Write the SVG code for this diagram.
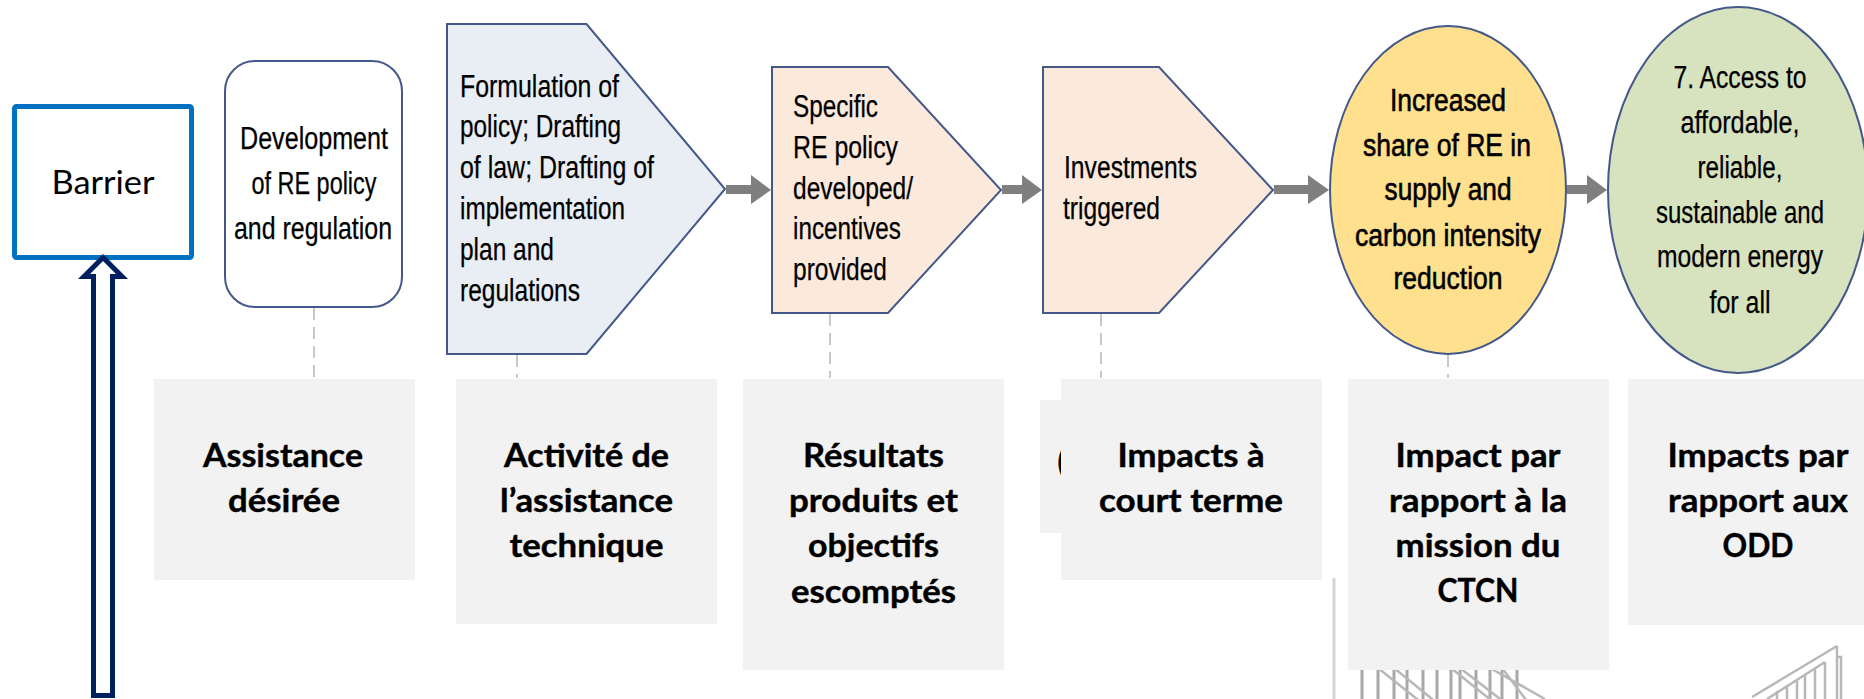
<svg xmlns="http://www.w3.org/2000/svg" width="1864" height="699" viewBox="0 0 1864 699">
<style>
text{fill:#000}
.n{font-family:"Liberation Sans",Arial,sans-serif;font-size:31px;stroke:#000;stroke-width:.25}
.m{text-anchor:middle}
.hv{stroke-width:.6}
.l{font-family:Lato,"Open Sans",sans-serif;font-weight:700;font-size:32px;text-anchor:middle;stroke:#000;stroke-width:.4}
.b{font-family:Lato,"Open Sans",sans-serif;font-size:32px;text-anchor:middle}
.s{stroke:#44598a;stroke-width:2;stroke-linejoin:miter}
.g{fill:#f2f2f2}
.d{stroke:#c8c8c8;stroke-width:2;stroke-dasharray:12 7;fill:none}
.a{fill:#7f7f7f}
.h{stroke:#b8b8b8;stroke-width:2.5;fill:none}
.h2{stroke:#a8a8a8;stroke-width:3;fill:none}
</style>

<g id="building-sketch">
<path d="M1334 578V699" stroke="#d4d4d4" stroke-width="3" fill="none"/>
<path class="h2" d="M1362 668V699M1378 668V699M1394 668V699M1407 668V699M1423 668V699M1437 668V699M1451 668V699M1460 668V699M1476 668V699M1490 668V699M1502 668V699M1517 668V699"/>
<path class="h" d="M1378 668L1437 715M1394 668L1437 703M1451 668L1502 709M1460 668L1517 712M1490 668L1545 699M1502 668L1545 725"/>
<path class="h" stroke-width="2" d="M1837 646L1752 697M1837 646V699M1837 657H1841V699"/>
<path class="h" d="M1825 662L1767 699M1825 662V699M1815 668V699M1805 674V699M1797 679V699M1787 685V699M1777 691V699"/>
</g>

<g id="barrier">
<rect x="14.500" y="106.500" width="177" height="151" rx="2" fill="#fff" stroke="#0070c0" stroke-width="5"/>
<text class="b" x="103" y="194" textLength="103" lengthAdjust="spacingAndGlyphs">Barrier</text>
</g>

<g id="assistance">
<rect x="225" y="61" width="177" height="246" rx="30" fill="#fff" class="s"/>
<text class="n m" x="314" y="149" textLength="148" lengthAdjust="spacingAndGlyphs">Development</text>
<text class="n m" x="314" y="194" textLength="125" lengthAdjust="spacingAndGlyphs">of RE policy</text>
<text class="n m" x="313" y="239" textLength="158" lengthAdjust="spacingAndGlyphs">and regulation</text>
</g>

<g id="activity">
<path class="s" fill="#e9edf4" d="M447 24H586.500L725 189L586.500 354H447Z"/>
<text class="n" x="460" y="97" textLength="159" lengthAdjust="spacingAndGlyphs">Formulation of</text>
<text class="n" x="460" y="137" textLength="161" lengthAdjust="spacingAndGlyphs">policy; Drafting</text>
<text class="n" x="460" y="178" textLength="194" lengthAdjust="spacingAndGlyphs">of law; Drafting of</text>
<text class="n" x="460" y="219" textLength="165" lengthAdjust="spacingAndGlyphs">implementation</text>
<text class="n" x="460" y="260" textLength="94" lengthAdjust="spacingAndGlyphs">plan and</text>
<text class="n" x="460" y="301" textLength="120" lengthAdjust="spacingAndGlyphs">regulations</text>
</g>

<g id="outputs">
<path class="s" fill="#fbe9dc" d="M772 67H888L1001 190L888 313H772Z"/>
<text class="n" x="793" y="117" textLength="85" lengthAdjust="spacingAndGlyphs">Specific</text>
<text class="n" x="793" y="158" textLength="105" lengthAdjust="spacingAndGlyphs">RE policy</text>
<text class="n" x="793" y="199" textLength="120" lengthAdjust="spacingAndGlyphs">developed/</text>
<text class="n" x="793" y="239" textLength="108" lengthAdjust="spacingAndGlyphs">incentives</text>
<text class="n" x="793" y="280" textLength="94" lengthAdjust="spacingAndGlyphs">provided</text>
</g>

<g id="investments">
<path class="s" fill="#fbe9dc" d="M1043 67H1159L1273 190L1159 313H1043Z"/>
<text class="n" x="1064" y="178" textLength="133" lengthAdjust="spacingAndGlyphs">Investments</text>
<text class="n" x="1063" y="219" textLength="97" lengthAdjust="spacingAndGlyphs">triggered</text>
</g>

<g id="share">
<ellipse cx="1448" cy="190" rx="118" ry="164" fill="#fee08e" class="s"/>
<text class="n m hv" x="1448" y="111" textLength="116" lengthAdjust="spacingAndGlyphs">Increased</text>
<text class="n m hv" x="1447" y="156" textLength="168" lengthAdjust="spacingAndGlyphs">share of RE in</text>
<text class="n m hv" x="1448" y="200" textLength="127" lengthAdjust="spacingAndGlyphs">supply and</text>
<text class="n m hv" x="1448" y="246" textLength="186" lengthAdjust="spacingAndGlyphs">carbon intensity</text>
<text class="n m hv" x="1448" y="289" textLength="109" lengthAdjust="spacingAndGlyphs">reduction</text>
</g>

<g id="access">
<ellipse cx="1738" cy="190" rx="130" ry="183" fill="#d7e2bf" class="s"/>
<text class="n m" x="1740" y="88" textLength="133" lengthAdjust="spacingAndGlyphs">7. Access to</text>
<text class="n m" x="1740" y="133" textLength="119" lengthAdjust="spacingAndGlyphs">affordable,</text>
<text class="n m" x="1740" y="178" textLength="85" lengthAdjust="spacingAndGlyphs">reliable,</text>
<text class="n m" x="1740" y="223" textLength="168" lengthAdjust="spacingAndGlyphs">sustainable and</text>
<text class="n m" x="1740" y="267" textLength="166" lengthAdjust="spacingAndGlyphs">modern energy</text>
<text class="n m" x="1740" y="313" textLength="61" lengthAdjust="spacingAndGlyphs">for all</text>
</g>

<g id="connectors">
<path class="d" d="M314 308V378"/>
<path class="d" d="M517 355V378"/>
<path class="d" d="M830 314V378"/>
<path class="d" d="M1101 314V378"/>
<path class="d" d="M1448 355V378"/>
<path class="a" d="M726 185H751V175L771 190L751 204V194H726Z"/>
<path class="a" d="M1002 185H1022V175L1042 190L1022 204V194H1002Z"/>
<path class="a" d="M1274 185H1308V175L1329 190L1308 204V194H1274Z"/>
<path class="a" d="M1567 185H1587V175L1607 190L1587 204V194H1567Z"/>
<path d="M93.500 695.500V276.500H84L103 257.500L122 276.500H112.500V695.500Z" fill="#fff" stroke="#002060" stroke-width="5" stroke-miterlimit="10"/>
</g>

<g id="label-1">
<rect class="g" x="154" y="379" width="261" height="201"/>
<text class="l" x="283" y="467" textLength="160" lengthAdjust="spacingAndGlyphs">Assistance</text>
<text class="l" x="284" y="512" textLength="112" lengthAdjust="spacingAndGlyphs">désirée</text>
</g>
<g id="label-2">
<rect class="g" x="456" y="379" width="261" height="245"/>
<text class="l" x="586.500" y="467" textLength="165" lengthAdjust="spacingAndGlyphs">Activité de</text>
<text class="l" x="586.500" y="512" textLength="173" lengthAdjust="spacingAndGlyphs">l’assistance</text>
<text class="l" x="586.500" y="557" textLength="154" lengthAdjust="spacingAndGlyphs">technique</text>
</g>
<g id="label-3">
<rect class="g" x="743" y="379" width="261" height="291"/>
<text class="l" x="873.500" y="467" textLength="141" lengthAdjust="spacingAndGlyphs">Résultats</text>
<text class="l" x="873.500" y="512" textLength="169" lengthAdjust="spacingAndGlyphs">produits et</text>
<text class="l" x="873.500" y="557" textLength="131" lengthAdjust="spacingAndGlyphs">objectifs</text>
<text class="l" x="873.500" y="603" textLength="165" lengthAdjust="spacingAndGlyphs">escomptés</text>
</g>
<g id="label-hidden">
<rect class="g" x="1040" y="400" width="100" height="133"/>
<text class="l" x="1062" y="473">(</text>
</g>
<g id="label-4">
<rect class="g" x="1061" y="379" width="261" height="201"/>
<text class="l" x="1191" y="467" textLength="147" lengthAdjust="spacingAndGlyphs">Impacts à</text>
<text class="l" x="1191" y="512" textLength="184" lengthAdjust="spacingAndGlyphs">court terme</text>
</g>
<g id="label-5">
<rect class="g" x="1348" y="379" width="261" height="291"/>
<text class="l" x="1478" y="467" textLength="165" lengthAdjust="spacingAndGlyphs">Impact par</text>
<text class="l" x="1478" y="512" textLength="178" lengthAdjust="spacingAndGlyphs">rapport à la</text>
<text class="l" x="1478" y="557" textLength="165" lengthAdjust="spacingAndGlyphs">mission du</text>
<text class="l" x="1478" y="602" textLength="81" lengthAdjust="spacingAndGlyphs">CTCN</text>
</g>
<g id="label-6">
<rect class="g" x="1628" y="379" width="236" height="246"/>
<text class="l" x="1758" y="467" textLength="181" lengthAdjust="spacingAndGlyphs">Impacts par</text>
<text class="l" x="1758" y="512" textLength="180" lengthAdjust="spacingAndGlyphs">rapport aux</text>
<text class="l" x="1758" y="557" textLength="71" lengthAdjust="spacingAndGlyphs">ODD</text>
</g>
</svg>
